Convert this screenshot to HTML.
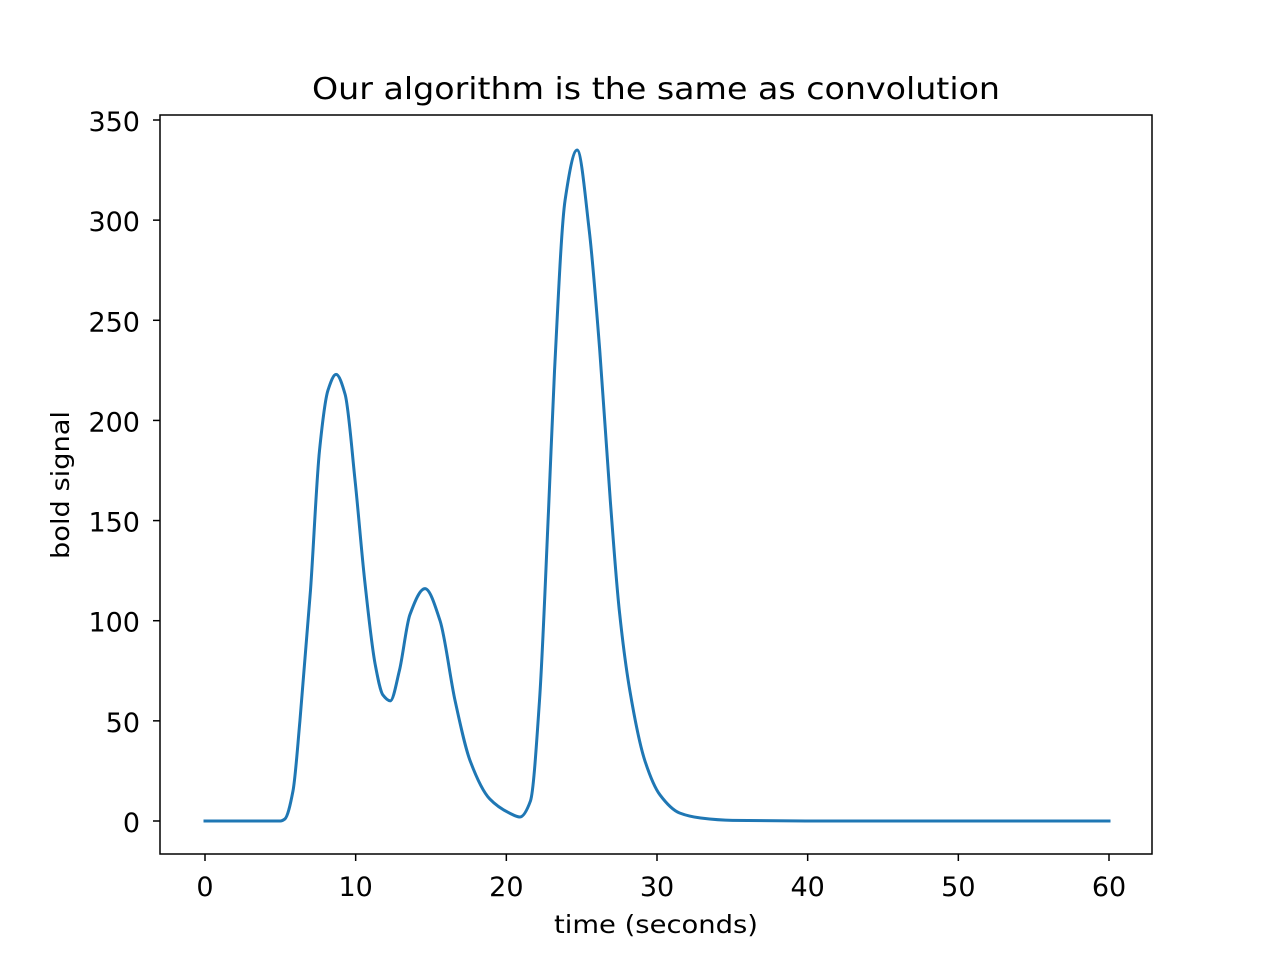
<!DOCTYPE html>
<html>
<head>
<meta charset="utf-8">
<style>
  html, body { margin: 0; padding: 0; background: #fff; }
  svg { display: block; }
  text { font-family: "DejaVu Sans", "Liberation Sans", sans-serif; fill: #000; }
</style>
</head>
<body>
<svg id="chart" width="1280" height="960" viewBox="0 0 1280 960" xmlns="http://www.w3.org/2000/svg">
  <rect x="0" y="0" width="1280" height="960" fill="#fff"/>
  <text x="656" y="99" text-anchor="middle" font-size="30" textLength="688" lengthAdjust="spacingAndGlyphs">Our algorithm is the same as convolution</text>
  <g id="xticks"></g>
  <g id="yticks"></g>
  <path id="line" fill="none" stroke="#1f77b4" stroke-width="3" stroke-linejoin="round" stroke-linecap="square"/>
  <rect x="160" y="115" width="992" height="739" fill="none" stroke="#000" stroke-width="1.5"/>
  <text x="656" y="933" text-anchor="middle" font-size="25" textLength="204" lengthAdjust="spacingAndGlyphs">time (seconds)</text>
  <text transform="translate(69,485) rotate(-90)" text-anchor="middle" font-size="25" textLength="148" lengthAdjust="spacingAndGlyphs">bold signal</text>
</svg>
<script>
const xTickValues = [0, 10, 20, 30, 40, 50, 60];
const yTickValues = [0, 50, 100, 150, 200, 250, 300, 350];
const times = [0, 5, 5.3, 5.84, 6.3, 7.0, 7.6, 8.16, 8.7, 9.3, 9.96, 10.6, 11.3, 11.8, 12.3, 12.9, 13.6, 14.6, 15.6, 16.6, 17.6, 18.9, 20.2, 20.9, 21.6, 22.2, 22.8, 23.2, 23.9, 24.7, 25.5, 26.2, 26.9, 27.5, 28.2, 29.2, 30.2, 31.5, 32.9, 35, 40, 60];
const signal = [0, 0, 1, 15, 50, 115, 185, 215, 223, 213, 170, 120, 78, 63, 60, 75, 103, 116, 100, 60, 30, 11, 4, 2, 10, 60, 155, 225, 310, 335, 295, 235, 160, 105, 65, 30, 13, 4, 1.5, 0.3, 0, 0];

const NS = "http://www.w3.org/2000/svg";
function xScale(t) { return 205 + (1109 - 205) * t / 60; }
function yScale(v) { return 821 - (821 - 120) * v / 350; }

const xg = document.getElementById('xticks');
xTickValues.forEach(function (t) {
  const l = document.createElementNS(NS, 'line');
  
  
  l.setAttribute('x1', xScale(t)); l.setAttribute('x2', xScale(t));
  l.setAttribute('y1', 854); l.setAttribute('y2', 861);
  l.setAttribute('stroke', '#000'); l.setAttribute('stroke-width', '1.5');
  xg.appendChild(l);
  const tx = document.createElementNS(NS, 'text');
  
  
  tx.setAttribute('x', xScale(t)); tx.setAttribute('y', 896);
  tx.setAttribute('text-anchor', 'middle'); tx.setAttribute('font-size', '27');
  tx.textContent = t;
  xg.appendChild(tx);
});
const yg = document.getElementById('yticks');
yTickValues.forEach(function (v) {
  const l = document.createElementNS(NS, 'line');
  
  
  l.setAttribute('x1', 153); l.setAttribute('x2', 160);
  l.setAttribute('y1', yScale(v)); l.setAttribute('y2', yScale(v));
  l.setAttribute('stroke', '#000'); l.setAttribute('stroke-width', '1.5');
  yg.appendChild(l);
  const tx = document.createElementNS(NS, 'text');
  
  
  tx.setAttribute('x', 140); tx.setAttribute('y', yScale(v) + 11);
  tx.setAttribute('text-anchor', 'end'); tx.setAttribute('font-size', '27');
  tx.textContent = v;
  yg.appendChild(tx);
});

// Monotone cubic (Fritsch-Carlson) path through data points
const px = times.map(xScale), py = signal.map(yScale);
const n = px.length;
const dk = [], m = new Array(n).fill(0);
for (let i = 0; i < n - 1; i++) dk.push((py[i + 1] - py[i]) / (px[i + 1] - px[i]));
m[0] = dk[0]; m[n - 1] = dk[n - 2];
for (let i = 1; i < n - 1; i++) {
  if (dk[i - 1] * dk[i] <= 0) m[i] = 0;
  else {
    const h0 = px[i] - px[i - 1], h1 = px[i + 1] - px[i];
    const w1 = 2 * h1 + h0, w2 = h1 + 2 * h0;
    m[i] = (w1 + w2) / (w1 / dk[i - 1] + w2 / dk[i]);
  }
}
let d = 'M' + px[0] + ',' + py[0];
for (let i = 0; i < n - 1; i++) {
  const h = (px[i + 1] - px[i]) / 3;
  d += ' C' + (px[i] + h) + ',' + (py[i] + m[i] * h) + ' ' + (px[i + 1] - h) + ',' + (py[i + 1] - m[i + 1] * h) + ' ' + px[i + 1] + ',' + py[i + 1];
}
document.getElementById('line').setAttribute('d', d);
</script>
</body>
</html>
